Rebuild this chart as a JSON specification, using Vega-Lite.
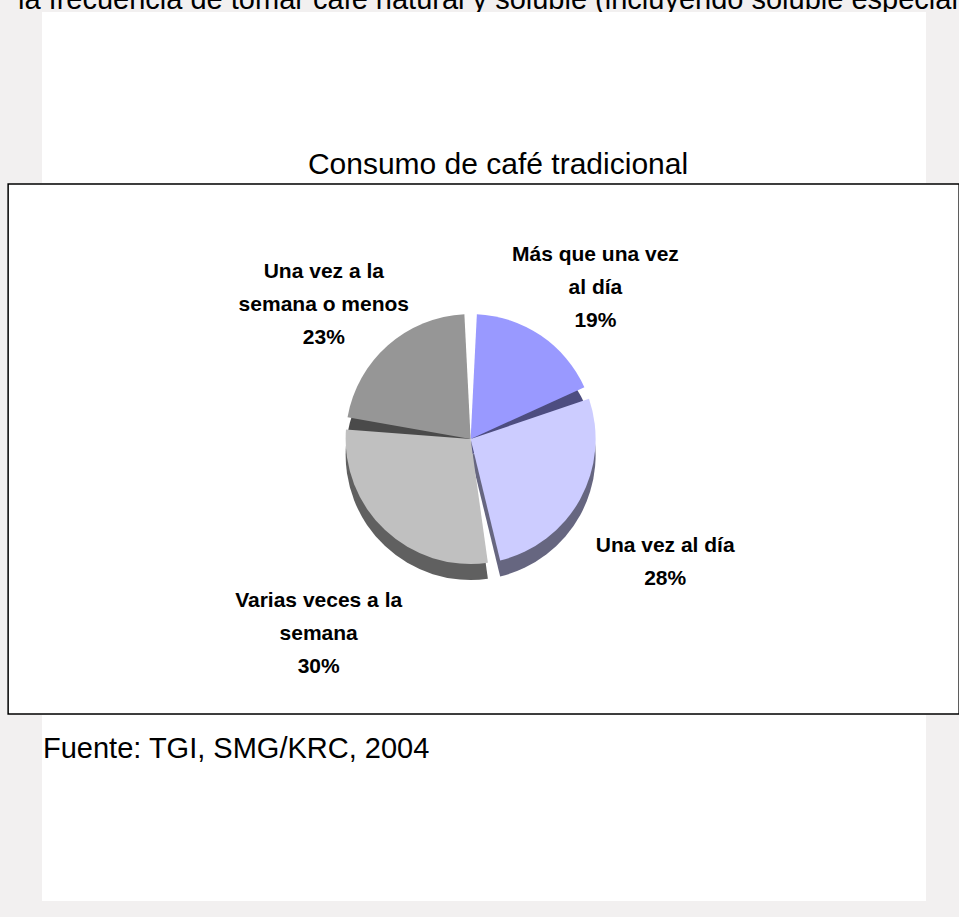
{
  "$schema": "https://vega.github.io/schema/vega-lite/v6.json",
  "padding": {"left": 7, "top": 0, "right": 0, "bottom": 18},
  "background": "#F2F0F0",
  "spacing": 0,
  "center": true,
  "config": {"view": {"stroke": null}, "concat": {"spacing": 0}},
  "vconcat": [
    {
      "width": 951,
      "height": 12,
      "data": {"values": [{"texto": "la frecuencia de tomar café natural y soluble (incluyendo soluble especial"}]},
      "mark": {"type": "text", "clip": true, "font": "Liberation Sans", "fontSize": 29, "align": "left", "baseline": "alphabetic", "color": "#000000", "dx": -466, "dy": 3, "limit": 942, "ellipsis": ""},
      "encoding": {"text": {"field": "texto"}}
    },
    {
      "width": 884,
      "height": 171,
      "view": {"fill": "#FFFFFF", "stroke": null},
      "data": {"values": [{"texto": "Consumo de café tradicional"}]},
      "mark": {"type": "text", "font": "Liberation Sans", "fontSize": 30, "baseline": "alphabetic", "color": "#000000", "dx": 14, "dy": 76},
      "encoding": {"text": {"field": "texto"}}
    },
    {
      "width": 951,
      "height": 530,
      "view": {"fill": "#FFFFFF", "stroke": "#000000", "strokeWidth": 1.5},
      "data": {
        "values": [
          {"categoria": "Más que una vez al día", "valor": 19, "orden": 1, "etiqueta": "Más que una vez\nal día\n19%"},
          {"categoria": "Una vez al día", "valor": 28, "orden": 2, "etiqueta": "Una vez al día\n28%"},
          {"categoria": "Varias veces a la semana", "valor": 30, "orden": 3, "etiqueta": "Varias veces a la\nsemana\n30%"},
          {"categoria": "Una vez a la semana o menos", "valor": 23, "orden": 4, "etiqueta": "Una vez a la\nsemana o menos\n23%"}
        ]
      },
      "encoding": {
        "theta": {"field": "valor", "type": "quantitative", "stack": true},
        "order": {"field": "orden", "type": "quantitative"}
      },
      "layer": [
        {
          "mark": {"type": "arc", "radius": 125, "padAngle": 0.1, "xOffset": -13, "yOffset": 6},
          "encoding": {
            "color": {
              "field": "categoria",
              "type": "nominal",
              "scale": {"domain": ["Más que una vez al día", "Una vez al día", "Varias veces a la semana", "Una vez a la semana o menos"], "range": ["#4D4D80", "#666680", "#606060", "#4A4A4A"]},
              "legend": null
            }
          }
        },
        {
          "mark": {"type": "arc", "radius": 125, "padAngle": 0.1, "xOffset": -13, "yOffset": -10},
          "encoding": {
            "fill": {
              "field": "categoria",
              "type": "nominal",
              "scale": {"domain": ["Más que una vez al día", "Una vez al día", "Varias veces a la semana", "Una vez a la semana o menos"], "range": ["#9999FF", "#CCCCFF", "#C0C0C0", "#969696"]},
              "legend": null
            }
          }
        },
        {
          "mark": {"type": "text", "radius": 222, "lineBreak": "\n", "font": "Liberation Sans", "fontWeight": "bold", "fontSize": 21, "lineHeight": 33, "color": "#000000", "xOffset": -13, "yOffset": -10},
          "encoding": {"text": {"field": "etiqueta"}}
        }
      ]
    },
    {
      "width": 884,
      "height": 186,
      "view": {"fill": "#FFFFFF", "stroke": null},
      "data": {"values": [{"texto": "Fuente: TGI, SMG/KRC, 2004"}]},
      "mark": {"type": "text", "font": "Liberation Sans", "fontSize": 29, "align": "left", "baseline": "alphabetic", "color": "#000000", "dx": -441, "dy": -50},
      "encoding": {"text": {"field": "texto"}}
    }
  ]
}
